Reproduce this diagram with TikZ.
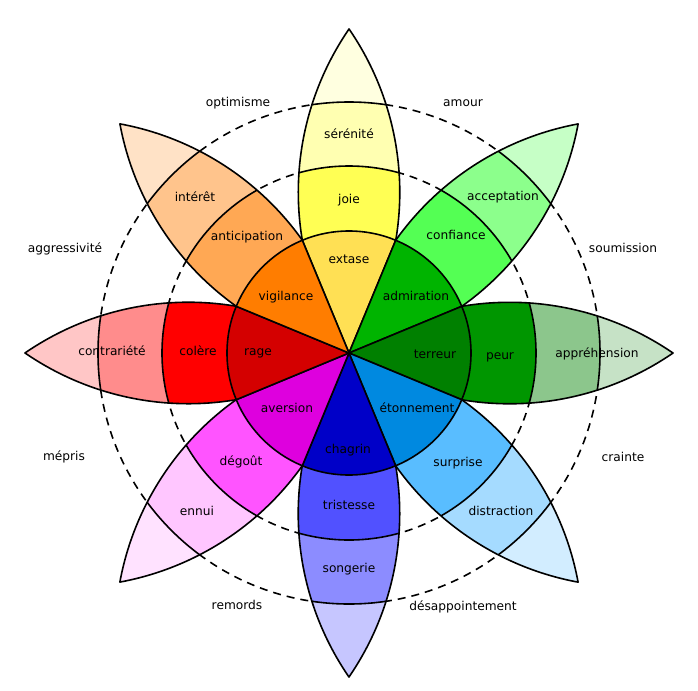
\documentclass[tikz,border=0pt]{standalone}
\usepackage{fontspec}
\setmainfont{DejaVu Sans}
\definecolor{yA}{HTML}{FFE054}\definecolor{yB}{HTML}{FFFF54}\definecolor{yC}{HTML}{FFFFB1}\definecolor{yD}{HTML}{FFFFE0}
\definecolor{gA}{HTML}{00B400}\definecolor{gB}{HTML}{54FF54}\definecolor{gC}{HTML}{8CFF8C}\definecolor{gD}{HTML}{C6FFC6}
\definecolor{dA}{HTML}{008000}\definecolor{dB}{HTML}{009600}\definecolor{dC}{HTML}{8CC68C}\definecolor{dD}{HTML}{C6E2C6}
\definecolor{bA}{HTML}{0089E0}\definecolor{bB}{HTML}{59BDFF}\definecolor{bC}{HTML}{A5DBFF}\definecolor{bD}{HTML}{D2EDFF}
\definecolor{nA}{HTML}{0000C8}\definecolor{nB}{HTML}{5151FF}\definecolor{nC}{HTML}{8C8CFF}\definecolor{nD}{HTML}{C6C6FF}
\definecolor{mA}{HTML}{DE00DE}\definecolor{mB}{HTML}{FF54FF}\definecolor{mC}{HTML}{FFC6FF}\definecolor{mD}{HTML}{FFE2FF}
\definecolor{rA}{HTML}{D40000}\definecolor{rB}{HTML}{FF0000}\definecolor{rC}{HTML}{FF8C8C}\definecolor{rD}{HTML}{FFC6C6}
\definecolor{oA}{HTML}{FF7D00}\definecolor{oB}{HTML}{FFA854}\definecolor{oC}{HTML}{FFC48C}\definecolor{oD}{HTML}{FFE2C6}
\begin{document}
\begin{tikzpicture}[x=0.75pt,y=0.75pt,
  outl/.style={draw=black,line width=1.2pt,line join=round},
  dashcirc/.style={draw=black,line width=1.2pt,dash pattern=on 6pt off 4.5pt},
  lbl/.style={font=\fontsize{9.15}{11}\selectfont,text=black,inner sep=0pt,text height=7pt,text depth=2pt}]
\useasboundingbox (-349,-337) rectangle (349,353);
\def\petalpath{(0,0) -- (22.5:122) arc[start angle=99.585,end angle=55.48,radius=288.2] arc[start angle=-55.48,end angle=-99.585,radius=288.2] -- cycle}
% dashed circles
\draw[dashcirc] (0,0) circle (187);
\draw[dashcirc] (0,0) circle (251);
% petals
\foreach \ang/\ca/\cb/\cc/\cd in {90/yA/yB/yC/yD,45/gA/gB/gC/gD,0/dA/dB/dC/dD,-45/bA/bB/bC/bD,-90/nA/nB/nC/nD,-135/mA/mB/mC/mD,180/rA/rB/rC/rD,135/oA/oB/oC/oD}{
  \begin{scope}[rotate=\ang]
    \begin{scope}
      \clip \petalpath;
      \fill[\cd] (0,0) circle (330);
      \fill[\cc] (0,0) circle (251);
      \fill[\cb] (0,0) circle (187);
      \draw[outl] (0,0) circle (251);
      \draw[outl] (0,0) circle (187);
    \end{scope}
    \draw[outl] \petalpath;
    \fill[\ca] (0,0) -- (-22.5:122) arc[start angle=-22.5,end angle=22.5,radius=122] -- cycle;
  \end{scope}
}
% inner wedge lines and circle
\foreach \a in {22.5,67.5,...,337.5}{\draw[outl] (0,0) -- (\a:122);}
\draw[outl] (0,0) circle (122);
% labels
\node[lbl] (extase) at (0,93) {extase};
\node[lbl] (vigilance) at (-63,56) {vigilance};
\node[lbl] (admiration) at (67,56) {admiration};
\node[lbl] (rage) at (-91,1) {rage};
\node[lbl] (terreur) at (86,-2) {terreur};
\node[lbl] (aversion) at (-62,-56) {aversion};
\node[lbl] (etonnement) at (68,-56) {étonnement};
\node[lbl] (chagrin) at (-1,-97) {chagrin};
\node[lbl] (joie) at (0,153) {joie};
\node[lbl] (serenite) at (0,218) {sérénité};
\node[lbl] (anticipation) at (-102,116) {anticipation};
\node[lbl] (interet) at (-154,155) {intérêt};
\node[lbl] (confiance) at (107,117) {confiance};
\node[lbl] (acceptation) at (154,156) {acceptation};
\node[lbl] (peur) at (151,-3) {peur};
\node[lbl] (apprehension) at (248,-1) {appréhension};
\node[lbl] (contrariete) at (-237,1) {contrariété};
\node[lbl] (colere) at (-151,1) {colère};
\node[lbl] (surprise) at (109,-110) {surprise};
\node[lbl] (distraction) at (152,-159) {distraction};
\node[lbl] (tristesse) at (0,-153) {tristesse};
\node[lbl] (songerie) at (0,-216) {songerie};
\node[lbl] (degout) at (-108,-109) {dégoût};
\node[lbl] (ennui) at (-152,-159) {ennui};
\node[lbl] (mepris) at (-285,-104) {mépris};
\node[lbl] (remords) at (-112,-253) {remords};
\node[lbl] (desappointement) at (114,-254) {désappointement};
\node[lbl] (aggressivite) at (-284,104) {aggressivité};
\node[lbl] (optimisme) at (-111,250) {optimisme};
\node[lbl] (amour) at (114,250) {amour};
\node[lbl] (soumission) at (274,104) {soumission};
\node[lbl] (crainte) at (274,-105) {crainte};
\end{tikzpicture}
\end{document}
